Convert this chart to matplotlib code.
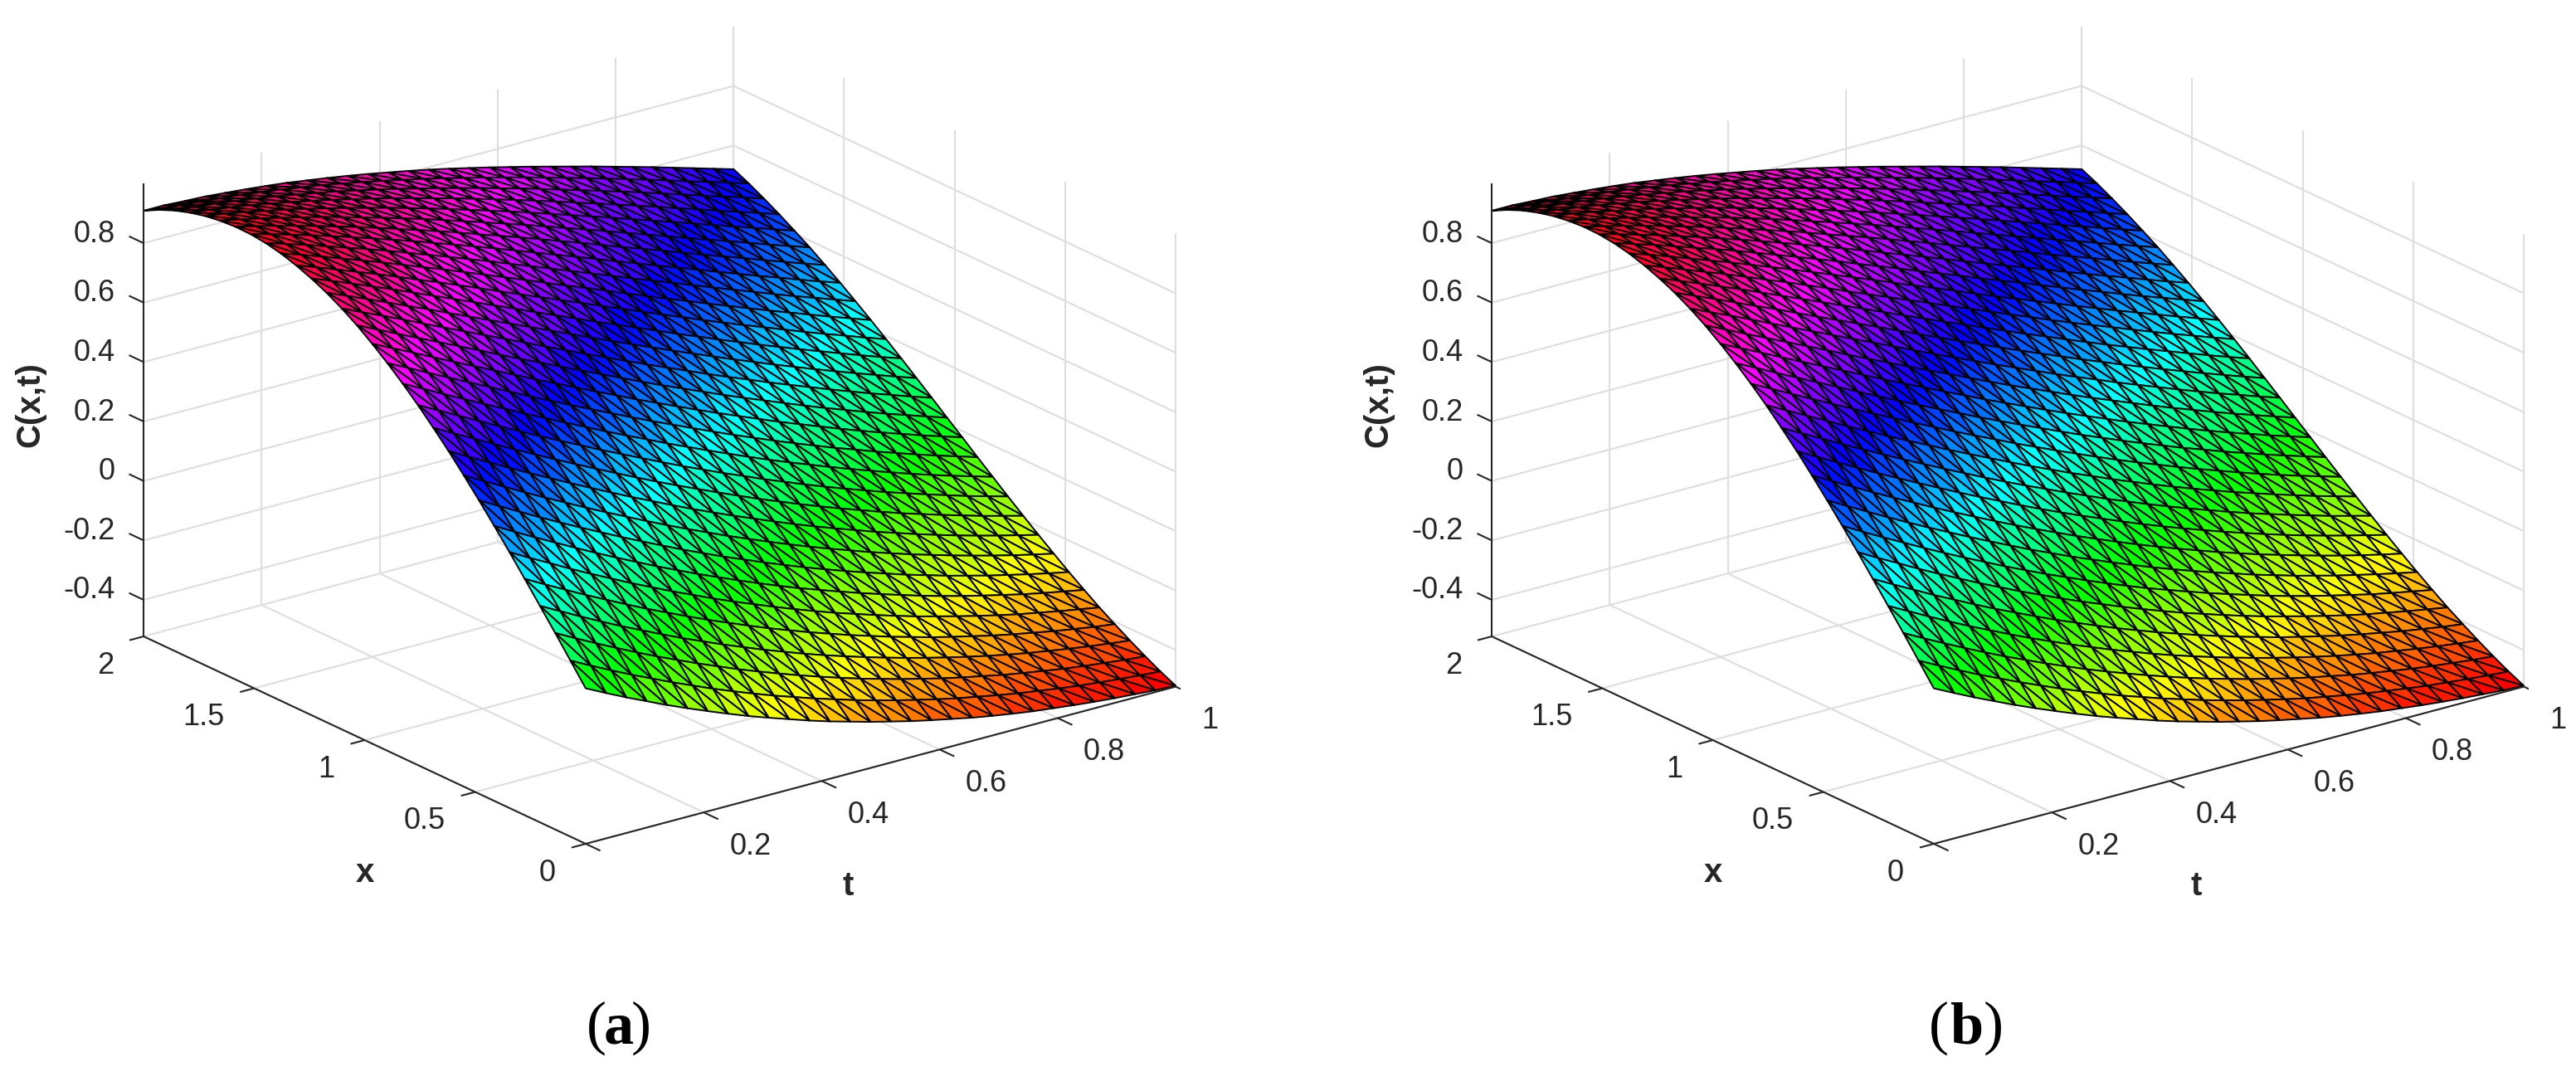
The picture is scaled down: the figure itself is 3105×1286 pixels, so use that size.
import numpy as np
import matplotlib
matplotlib.use('Agg')
import matplotlib.pyplot as plt
from mpl_toolkits.mplot3d import proj3d

W, H = 3105, 1286
# mesh nodes: 30 x 30 in the reference
x_nodes = np.linspace(0, 2, 30)
t_nodes = np.linspace(0, 1, 30)
# C(x,t) in thousandths, one row per x node, one column per t node.
# Panels (a) and (b) agree to within reading accuracy, so both draw this table.
C_milli = [
 [0,-34,-67,-98,-129,-158,-186,-213,-239,-263,-286,-309,-330,-349,-368,-385,-402,-417,-431,-445,-457,-468,-478,-486,-494,-501,-507,-512,-517,-520],
 [69,34,0,-33,-64,-95,-124,-153,-180,-206,-231,-254,-277,-298,-319,-338,-356,-373,-389,-404,-417,-430,-442,-452,-462,-471,-478,-485,-491,-496],
 [138,102,67,33,0,-32,-62,-92,-120,-148,-174,-199,-223,-246,-268,-289,-308,-327,-344,-361,-376,-390,-404,-416,-427,-438,-447,-455,-463,-469],
 [205,169,133,98,64,32,0,-31,-60,-89,-116,-143,-168,-193,-216,-238,-259,-279,-298,-316,-333,-349,-364,-378,-391,-402,-413,-423,-432,-440],
 [272,235,199,163,129,95,62,31,0,-30,-58,-86,-113,-138,-163,-186,-209,-230,-251,-270,-289,-306,-322,-338,-352,-365,-378,-389,-400,-409],
 [338,300,264,227,192,158,124,92,60,30,0,-29,-56,-83,-109,-134,-158,-180,-202,-223,-243,-261,-279,-296,-312,-327,-340,-353,-365,-377],
 [402,364,327,291,255,220,186,153,120,89,58,29,0,-28,-55,-81,-105,-129,-152,-174,-195,-216,-235,-253,-270,-286,-302,-316,-329,-342],
 [464,426,389,352,316,281,247,213,180,148,116,86,56,28,0,-27,-53,-78,-102,-125,-147,-169,-189,-209,-227,-245,-261,-277,-292,-306],
 [524,486,449,412,376,341,306,272,239,206,174,143,113,83,55,27,0,-26,-51,-75,-99,-121,-143,-163,-183,-202,-220,-237,-253,-268],
 [582,544,507,470,434,399,364,330,296,263,231,199,168,138,109,81,53,26,0,-25,-49,-73,-95,-117,-138,-158,-177,-195,-212,-229],
 [636,599,563,526,490,455,420,386,352,319,286,254,223,193,163,134,105,78,51,25,0,-24,-48,-71,-92,-113,-133,-153,-171,-189],
 [688,652,616,580,544,509,474,440,407,373,341,309,277,246,216,186,158,129,102,75,49,24,0,-24,-46,-68,-89,-110,-129,-148],
 [736,701,665,630,595,561,526,493,459,426,393,361,330,298,268,238,209,180,152,125,99,73,48,24,0,-23,-45,-66,-86,-106],
 [781,747,712,678,644,610,576,542,509,476,444,412,380,349,319,289,259,230,202,174,147,121,95,71,46,23,0,-22,-43,-64],
 [822,789,756,722,689,656,623,590,557,525,493,461,430,398,368,338,308,279,251,223,195,169,143,117,92,68,45,22,0,-21],
 [860,828,795,763,731,699,667,634,602,571,539,508,477,446,415,385,356,327,298,270,243,216,189,163,138,113,89,66,43,21],
 [893,862,832,801,769,738,707,676,645,614,583,552,521,491,461,431,402,373,344,316,289,261,235,209,183,158,133,110,86,64],
 [922,893,864,834,804,775,744,714,684,654,624,594,564,534,504,475,446,417,389,361,333,306,279,253,227,202,177,153,129,106],
 [946,919,892,864,836,807,778,749,720,691,662,632,603,574,545,517,488,460,431,404,376,349,322,296,270,245,220,195,171,148],
 [966,941,915,889,863,836,808,781,753,725,696,668,640,612,584,556,528,500,472,445,417,390,364,338,312,286,261,237,212,189],
 [982,959,935,910,885,860,834,808,782,755,728,701,674,646,619,592,565,537,510,483,457,430,404,378,352,327,302,277,253,229],
 [993,971,950,927,904,881,857,832,807,782,756,731,704,678,652,625,599,573,546,520,494,468,442,416,391,365,340,316,292,268],
 [999,980,960,940,919,897,875,852,829,805,781,757,732,707,681,656,631,605,579,554,528,503,478,452,427,402,378,353,329,306],
 [1000,983,966,948,929,909,889,868,846,824,802,779,755,732,708,684,659,635,610,585,561,536,511,486,462,438,413,389,365,342],
 [996,982,967,951,934,917,898,879,860,839,819,797,775,753,731,708,685,661,638,614,590,566,542,518,494,471,447,423,400,377],
 [988,977,964,950,936,920,904,887,869,851,832,812,792,771,750,729,707,685,662,640,617,594,571,548,525,501,478,455,432,409],
 [975,966,956,945,932,919,905,890,874,858,841,823,804,786,766,746,726,705,684,662,641,619,597,575,552,530,507,485,463,440],
 [958,951,944,935,925,914,902,889,876,861,846,830,813,796,778,760,741,722,702,682,661,641,620,599,577,556,534,512,491,469],
 [936,932,927,920,913,904,895,884,873,860,847,833,818,803,787,770,753,735,717,698,679,660,640,620,600,579,558,538,517,496],
 [909,909,905,902,896,890,883,875,865,855,844,832,819,806,792,777,761,745,728,711,693,675,657,638,619,600,580,560,540,520],
]
t_ticks = [0, 0.2, 0.4, 0.6, 0.8, 1]
t_labels = ['', '0.2', '0.4', '0.6', '0.8', '1']
x_ticks = [0, 0.5, 1, 1.5, 2]
x_labels = ['0', '0.5', '1', '1.5', '2']
z_ticks = [-0.4, -0.2, 0, 0.2, 0.4, 0.6, 0.8]
z_labels = ['-0.4', '-0.2', '0', '0.2', '0.4', '0.6', '0.8']
z_lim = (-0.523, 1.0)

GRID = '#dedede'
AX = '#262626'
plt.rcParams['font.family'] = ['Liberation Sans', 'DejaVu Sans']
fig = plt.figure(figsize=(W / 100, H / 100), dpi=100)
cmap = plt.get_cmap('hsv', 64)


def panel(dx, letter, let_x):
    side = 1290
    ax = fig.add_axes([(dx + 150) / W, 0, side / W, side / H], projection='3d',
                      proj_type='ortho', computed_zorder=False)
    ax.view_init(elev=20.7, azim=233.0)
    ax.set_xlim(0, 1); ax.set_ylim(0, 2); ax.set_zlim(*z_lim)
    ax.set_axis_off()
    ax.patch.set_alpha(0)
    aspect = (890, 885, 583)
    zoom = 1.0
    targets = {'front': (706 + dx, 1017), 'right': (1417 + dx, 828), 'left': (173 + dx, 767)}

    def px(t, x, z):
        u, v, _ = proj3d.proj_transform(t, x, z, ax.get_proj())
        p = ax.transData.transform((u, v))
        return np.array([p[0], H - p[1]])

    for _ in range(3):
        ax.set_box_aspect(aspect, zoom=zoom)
        ax.apply_aspect()
        b, c = px(1, 0, z_lim[0]), px(0, 2, z_lim[0])
        span = np.linalg.norm(b - c)
        want = np.linalg.norm(np.array(targets['right']) - np.array(targets['left']))
        zoom *= want / span
    ax.set_box_aspect(aspect, zoom=zoom)
    ax.apply_aspect()
    a = px(0, 0, z_lim[0])
    shift = np.array(targets['front']) - a
    pos = ax.get_position(original=True)
    ax.set_position([pos.x0 + shift[0] / W, pos.y0 - shift[1] / H, pos.width, pos.height])
    ax.apply_aspect()

    zb, zt = z_lim
    kw = dict(color=GRID, lw=1.5, zorder=1, solid_capstyle='butt')
    for t in t_ticks:
        if t > 0:
            ax.plot([t, t], [2, 2], [zb, zt], **kw)
        ax.plot([t, t], [0, 2], [zb, zb], **kw)
    for x in x_ticks:
        ax.plot([1, 1], [x, x], [zb, zt], **kw)
        ax.plot([0, 1], [x, x], [zb, zb], **kw)
    for z in z_ticks:
        ax.plot([0, 1], [2, 2], [z, z], **kw)
        ax.plot([1, 1], [0, 2], [z, z], **kw)

    T, X = np.meshgrid(t_nodes, x_nodes)
    n, m = X.shape
    tri = []
    for i in range(n - 1):
        for j in range(m - 1):
            p = i * m + j
            tri.append([p, p + 1, p + m])
            tri.append([p + m, p + 1, p + m + 1])
    ax.plot_trisurf(T.ravel(), X.ravel(), np.array(C_milli).ravel() / 1000.0, triangles=tri,
                    cmap=cmap, vmin=z_lim[0], vmax=z_lim[1], edgecolor='k',
                    linewidth=1.4, shade=False, zorder=2)

    kw = dict(color=AX, lw=1.5, zorder=3, solid_capstyle='butt')
    ax.plot([0, 1], [0, 0], [zb, zb], **kw)
    ax.plot([0, 0], [0, 2], [zb, zb], **kw)
    ax.plot([0, 0], [2, 2], [zb, zt], **kw)
    for t in t_ticks:
        ax.plot([t, t], [0, -0.066], [zb, zb], **kw)
    for x in x_ticks:
        ax.plot([0, -0.024], [x, x], [zb, zb], **kw)
    for z in z_ticks:
        ax.plot([0, 0], [2, 2.066], [z, z], **kw)

    def note(s, t, x, z, ox, oy, ha, va='center', **k):
        u, v, _ = proj3d.proj_transform(t, x, z, ax.get_proj())
        ax.annotate(s, xy=(u, v), xycoords='data', xytext=(ox, oy), textcoords='offset pixels',
                    ha=ha, va=va, annotation_clip=False, **k)

    tk = dict(fontsize=26, color=AX)
    for t, s in zip(t_ticks, t_labels):
        if s:
            note(s, t, 0, zb, 31, -41, 'left', **tk)
    for x, s in zip(x_ticks, x_labels):
        note(s, 0, x, zb, -36, -35, 'right', **tk)
    for z, s in zip(z_ticks, z_labels):
        note(s, 0, 2, z, -34, 11, 'right', **tk)

    lb = dict(fontsize=29, color=AX, fontweight='bold', ha='center', va='center')
    fig.text((440 + dx) / W, 1 - 1052 / H, 'x', **lb)
    fig.text((1022 + dx) / W, 1 - 1068 / H, 't', **lb)
    fig.text((36 + dx) / W, 1 - 488 / H, 'C(x,t)', rotation=90, **lb)

    cap = dict(fontsize=52, family=['Liberation Serif'], color='k', va='baseline')
    half = 39 if letter == 'a' else 45
    fig.text((let_x - half) / W, 1 - 1257 / H, '(', ha='left', **cap)
    fig.text(let_x / W, 1 - 1257 / H, letter, ha='center', fontweight='bold', **cap)
    fig.text((let_x + half) / W, 1 - 1257 / H, ')', ha='right', **cap)


panel(0, 'a', 746)
panel(1625, 'b', 2370)
fig.savefig('out.png', dpi=100)
